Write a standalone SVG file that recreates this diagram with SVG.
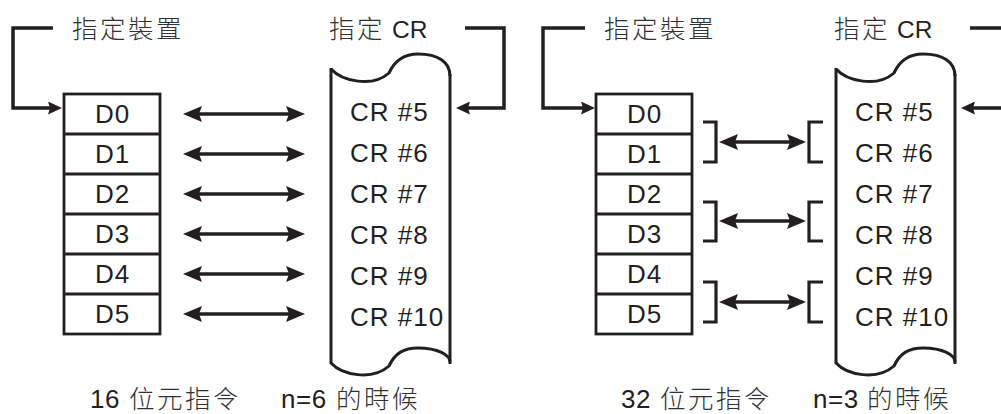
<svg xmlns="http://www.w3.org/2000/svg" width="1001" height="414" viewBox="0 0 1001 414">
<style>
.bg{fill:#ffffff}
.ln{fill:none;stroke:#231f20;stroke-width:3.5;stroke-linejoin:miter;stroke-linecap:butt}
.box{fill:#ffffff;stroke:#231f20;stroke-width:2.8}
.scr{fill:none;stroke:#231f20;stroke-width:3}
.br{fill:none;stroke:#231f20;stroke-width:3.2}
.dbl{fill:none;stroke:#231f20;stroke-width:3.5}
.en{font-family:"Liberation Sans",Arial,sans-serif;font-size:26px;fill:#231f20;letter-spacing:1px}
.zh{font-family:"Noto Sans CJK TC","Noto Sans CJK SC",sans-serif;font-size:25.5px;font-weight:300;fill:#333132;letter-spacing:2.5px}
.hd{font-family:"Liberation Sans",Arial,sans-serif;font-size:24.5px;fill:#231f20}
.mid{text-anchor:middle}
</style>
<defs>
<marker id="ah" viewBox="0 0 19 16" refX="9" refY="8" markerWidth="19" markerHeight="16" markerUnits="userSpaceOnUse" orient="auto-start-reverse">
<path d="M0,0 L19,8 L0,16 L3,8 Z" fill="#231f20"/>
</marker>
<marker id="ah2" viewBox="0 0 14 13" refX="6" refY="6.5" markerWidth="14" markerHeight="13" markerUnits="userSpaceOnUse" orient="auto">
<path d="M0,0 L14,6.5 L0,13 L2,6.5 Z" fill="#231f20"/>
</marker>
</defs>
<rect class="bg" x="0" y="0" width="1001" height="414"/>

<!-- LEFT PANEL -->
<g id="left-device-label">
<text class="zh" x="72" y="38">指定裝置</text>
</g>
<g id="left-cr-label">
<text x="329" y="38"><tspan class="zh">指定</tspan><tspan class="hd" x="392">CR</tspan></text>
</g>
<g id="left-devices">
<rect class="box" x="64" y="94" width="96" height="240"/>
<line class="box" x1="64" y1="134" x2="160" y2="134"/>
<line class="box" x1="64" y1="174" x2="160" y2="174"/>
<line class="box" x1="64" y1="214" x2="160" y2="214"/>
<line class="box" x1="64" y1="254" x2="160" y2="254"/>
<line class="box" x1="64" y1="294" x2="160" y2="294"/>
<text class="en mid" x="112.5" y="123">D0</text>
<text class="en mid" x="112.5" y="163">D1</text>
<text class="en mid" x="112.5" y="203">D2</text>
<text class="en mid" x="112.5" y="243">D3</text>
<text class="en mid" x="112.5" y="283">D4</text>
<text class="en mid" x="112.5" y="323">D5</text>
</g>
<g id="left-cr">
<path class="scr" d="M331,68 L331,364"/>
<path class="scr" d="M450,74 L450,364"/>
<path class="scr" d="M331,69 C342,81 372,88 389,73 C395,60 404,54 418,54 C438,54 450,62 450,76"/>
<path class="scr" d="M331,363 C342,375 372,381 389,366 C395,353 404,348 418,348 C438,348 450,355 450,362"/>
<text class="en" x="350" y="121">CR #5</text>
<text class="en" x="350" y="162">CR #6</text>
<text class="en" x="350" y="203">CR #7</text>
<text class="en" x="350" y="244">CR #8</text>
<text class="en" x="350" y="285">CR #9</text>
<text class="en" x="350" y="326">CR #10</text>
</g>
<g id="left-caption">
<text x="90" y="408"><tspan class="en" style="letter-spacing:0.5px">16</tspan><tspan class="zh" x="129">位元指令</tspan></text>
<text x="281" y="408"><tspan class="en" style="letter-spacing:0.5px">n=6</tspan><tspan class="zh" x="336">的時候</tspan></text>
</g>

<!-- RIGHT PANEL -->
<g id="right-device-label">
<text class="zh" x="604" y="38">指定裝置</text>
</g>
<g id="right-cr-label">
<text x="834" y="38"><tspan class="zh">指定</tspan><tspan class="hd" x="897">CR</tspan></text>
</g>
<g id="right-devices">
<rect class="box" x="596" y="94" width="96" height="240"/>
<line class="box" x1="596" y1="134" x2="692" y2="134"/>
<line class="box" x1="596" y1="174" x2="692" y2="174"/>
<line class="box" x1="596" y1="214" x2="692" y2="214"/>
<line class="box" x1="596" y1="254" x2="692" y2="254"/>
<line class="box" x1="596" y1="294" x2="692" y2="294"/>
<text class="en mid" x="644.5" y="123">D0</text>
<text class="en mid" x="644.5" y="163">D1</text>
<text class="en mid" x="644.5" y="203">D2</text>
<text class="en mid" x="644.5" y="243">D3</text>
<text class="en mid" x="644.5" y="283">D4</text>
<text class="en mid" x="644.5" y="323">D5</text>
</g>
<g id="right-cr">
<path class="scr" d="M836,68 L836,364"/>
<path class="scr" d="M955,74 L955,364"/>
<path class="scr" d="M836,69 C847,81 877,88 894,73 C900,60 909,54 923,54 C943,54 955,62 955,76"/>
<path class="scr" d="M836,363 C847,375 877,381 894,366 C900,353 909,348 923,348 C943,348 955,355 955,362"/>
<text class="en" x="855" y="121">CR #5</text>
<text class="en" x="855" y="162">CR #6</text>
<text class="en" x="855" y="203">CR #7</text>
<text class="en" x="855" y="244">CR #8</text>
<text class="en" x="855" y="285">CR #9</text>
<text class="en" x="855" y="326">CR #10</text>
</g>
<g id="right-caption">
<text x="621" y="408"><tspan class="en" style="letter-spacing:0.5px">32</tspan><tspan class="zh" x="660">位元指令</tspan></text>
<text x="813" y="408"><tspan class="en" style="letter-spacing:0.5px">n=3</tspan><tspan class="zh" x="867">的時候</tspan></text>
</g>

<!-- CONNECTORS -->
<g id="connectors">
<path class="ln" d="M53,28 H13 V108 H54" marker-end="url(#ah2)"/>
<path class="ln" d="M465,28 H504 V108 H464" marker-end="url(#ah2)"/>
<path class="ln" d="M585,28 H543 V108 H587" marker-end="url(#ah2)"/>
<path class="ln" d="M970,28 H1012 V108 H969" marker-end="url(#ah2)"/>

<line class="dbl" x1="193" y1="114" x2="295" y2="114" marker-start="url(#ah)" marker-end="url(#ah)"/>
<line class="dbl" x1="193" y1="154" x2="295" y2="154" marker-start="url(#ah)" marker-end="url(#ah)"/>
<line class="dbl" x1="193" y1="194" x2="295" y2="194" marker-start="url(#ah)" marker-end="url(#ah)"/>
<line class="dbl" x1="193" y1="234" x2="295" y2="234" marker-start="url(#ah)" marker-end="url(#ah)"/>
<line class="dbl" x1="193" y1="274" x2="295" y2="274" marker-start="url(#ah)" marker-end="url(#ah)"/>
<line class="dbl" x1="193" y1="314" x2="295" y2="314" marker-start="url(#ah)" marker-end="url(#ah)"/>

<path class="br" d="M703,122 H716 V162 H703"/>
<path class="br" d="M823,122 H809 V162 H823"/>
<line class="dbl" x1="729" y1="142" x2="796" y2="142" marker-start="url(#ah)" marker-end="url(#ah)"/>
<path class="br" d="M703,202 H716 V241 H703"/>
<path class="br" d="M823,202 H809 V241 H823"/>
<line class="dbl" x1="729" y1="221" x2="796" y2="221" marker-start="url(#ah)" marker-end="url(#ah)"/>
<path class="br" d="M703,282 H716 V322 H703"/>
<path class="br" d="M823,282 H809 V322 H823"/>
<line class="dbl" x1="729" y1="302" x2="796" y2="302" marker-start="url(#ah)" marker-end="url(#ah)"/>
</g>
</svg>
